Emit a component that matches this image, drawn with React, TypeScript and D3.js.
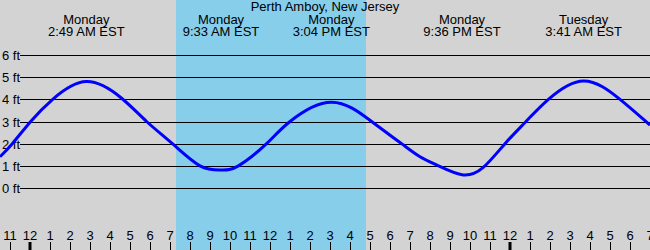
import React from "react";
import * as d3 from "d3";

const TITLE = "Perth Amboy, New Jersey";
// tide events: hours since Monday 00:00
const eventHours = [2.817, 9.55, 15.067, 21.6, 27.683];
const eventDays = ["Monday", "Monday", "Monday", "Monday", "Tuesday"];
const eventTimes = ["2:49 AM EST", "9:33 AM EST", "3:04 PM EST", "9:36 PM EST", "3:41 AM EST"];

// tide curve samples (hours since Monday 00:00, feet)
const tideHours = [-1.5, -0.885, 0.035, 1.135, 2.82, 4.58, 5.83, 7.12, 8.5, 9.55, 10.42, 11.83, 13.0, 15.07, 17.08, 18.58, 19.5, 20.42, 21.6, 22.65, 23.75, 24.8, 25.92, 27.68, 29.5, 31.0];
const tideFeet = [1.41, 2.0, 3.0, 4.0, 4.8, 4.05, 3.0, 2.0, 1.0, 0.81, 1.0, 2.0, 3.0, 3.87, 3.0, 2.0, 1.41, 1.0, 0.6, 0.92, 2.0, 3.0, 4.0, 4.83, 4.0, 2.84];

const daylight = [7.3, 16.8];
const feetTicks = [0, 1, 2, 3, 4, 5, 6];
const hourTicks = d3.range(-1, 32);

const W = 650;
const H = 250;

export default function App() {
  const x = d3.scaleLinear().domain([-1.5, 31]).range([0, W]);
  const y = d3.scaleLinear().domain([0, 6]).range([188, 55]);
  const data = tideHours.map((h, i) => [h, tideFeet[i]] as [number, number]);
  const line = d3
    .line<[number, number]>()
    .x((d) => x(d[0]))
    .y((d) => y(d[1]))
    .curve(d3.curveNatural);
  const font = "'Liberation Sans', Arial, sans-serif";
  const hourLabel = (h: number) => {
    const m = ((h % 12) + 12) % 12;
    return String(m === 0 ? 12 : m);
  };
  return (
    <svg
      width={W}
      height={H}
      style={{ position: "absolute", left: 0, top: 0, display: "block" }}
      fontFamily={font}
    >
      <rect x={0} y={0} width={W} height={H} fill="#d3d3d3" />
      <rect
        x={x(daylight[0])}
        y={0}
        width={x(daylight[1]) - x(daylight[0])}
        height={H}
        fill="#87ceeb"
      />
      {feetTicks.map((f) => {
        const yy = Math.round(y(f)) + 0.5;
        return (
          <g key={f}>
            <line x1={20} x2={W} y1={yy} y2={yy} stroke="#000" strokeWidth={1} />
            <text x={20} y={yy + 4.5} fontSize={13} textAnchor="end" fill="#000">
              {f} ft
            </text>
          </g>
        );
      })}
      <path d={line(data) || ""} fill="none" stroke="#0000ff" strokeWidth={3} />
      <text x={W / 2} y={11} fontSize={13} textAnchor="middle" fill="#000">
        {TITLE}
      </text>
      {eventHours.map((h, i) => (
        <g key={i}>
          <text x={x(h)} y={24} fontSize={13} textAnchor="middle" fill="#000">
            {eventDays[i]}
          </text>
          <text x={x(h)} y={36} fontSize={13} textAnchor="middle" fill="#000">
            {eventTimes[i]}
          </text>
        </g>
      ))}
      {hourTicks.map((h) => {
        const xx = Math.round(x(h));
        const mid = ((h % 24) + 24) % 24 === 0;
        return (
          <g key={h}>
            <line
              x1={mid ? xx : xx + 0.5}
              x2={mid ? xx : xx + 0.5}
              y1={242}
              y2={H}
              stroke="#000"
              strokeWidth={mid ? 3 : 1}
            />
            <text x={xx} y={240} fontSize={13} textAnchor="middle" fill="#000">
              {hourLabel(h)}
            </text>
          </g>
        );
      })}
    </svg>
  );
}
